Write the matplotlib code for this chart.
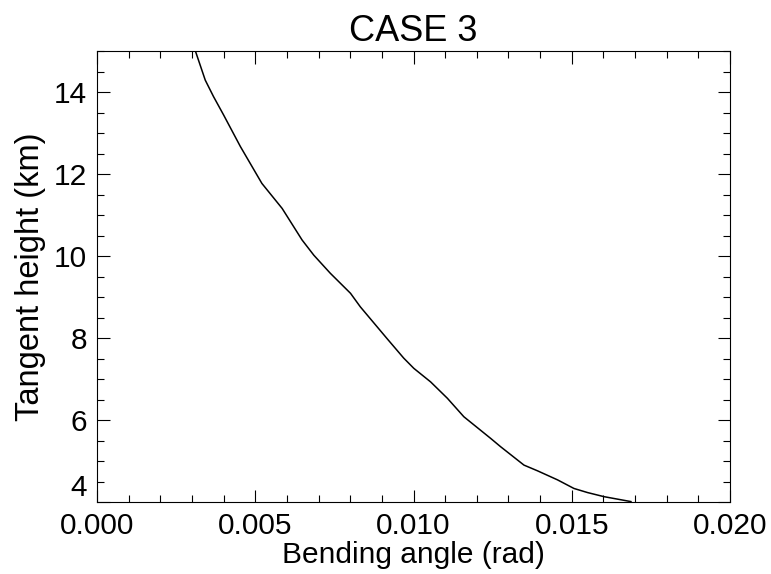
import numpy as np
import matplotlib.pyplot as plt
from matplotlib.ticker import MultipleLocator

plt.rcParams['font.family'] = ['Liberation Sans', 'DejaVu Sans']

# bending angle profile (rad vs km)
bending_angle = [0.00310, 0.00342, 0.00368, 0.00400, 0.00453, 0.00490, 0.00521,
                 0.00585, 0.00621, 0.00648, 0.00685, 0.00737, 0.00801, 0.00832,
                 0.00917, 0.00969, 0.01001, 0.01054, 0.01107, 0.01159, 0.01244,
                 0.01275, 0.01349, 0.01392, 0.01455, 0.01507, 0.01550, 0.01602,
                 0.01687]
tangent_height = [15.02, 14.29, 13.89, 13.44, 12.67, 12.18, 11.77,
                  11.16, 10.72, 10.39, 10.02, 9.58, 9.09, 8.76,
                  7.98, 7.51, 7.26, 6.93, 6.53, 6.08, 5.55,
                  5.35, 4.90, 4.76, 4.54, 4.33, 4.23, 4.13,
                  4.01]

xticks = [0.000, 0.005, 0.010, 0.015, 0.020]
yticks = [4, 6, 8, 10, 12, 14]

fig = plt.figure(figsize=(7.71, 5.74), dpi=100)
ax = fig.add_axes([97/771, 1-502/574, (730-97)/771, (502-51)/574])

ax.plot(bending_angle, tangent_height, color='black', linewidth=1.1)

ax.set_xlim(0, 0.02)
ax.set_ylim(4, 15)
ax.set_xticks(xticks)
ax.set_xticklabels(['%.3f' % v for v in xticks])
ax.set_yticks(yticks)
ax.xaxis.set_minor_locator(MultipleLocator(0.001))
ax.yaxis.set_minor_locator(MultipleLocator(0.5))

ax.tick_params(which='both', direction='in', top=True, right=True,
               labelsize=21.5, width=0.8, pad=7)
ax.tick_params(which='major', length=9)
ax.tick_params(which='minor', length=4.8)
for s in ax.spines.values():
    s.set_linewidth(0.8)

# the lowest y label sits above the corner, like the original
ax.get_yticklabels()[0].set_va('bottom')

ax.set_title('CASE 3', fontsize=26, pad=7)
ax.set_xlabel('Bending angle (rad)', fontsize=21.5, labelpad=1)
ax.set_ylabel('Tangent height (km)', fontsize=23.5, labelpad=6)

fig.savefig('out.png', dpi=100)
